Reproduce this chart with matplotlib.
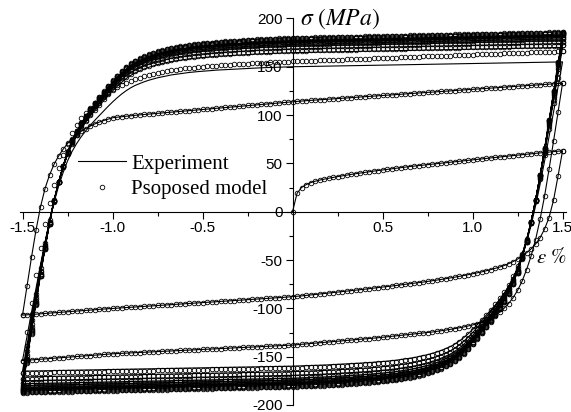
import numpy as np
import matplotlib.pyplot as plt
from matplotlib.lines import Line2D
from matplotlib.ticker import MultipleLocator

plt.rcParams['mathtext.fontset'] = 'stix'

# strain samples (%) along one half cycle, -1.5 ... 1.5
strain = np.round(np.arange(121) * 0.025 - 1.5, 3)

# monotonic first loading, stress (MPa) on strain 0 ... 1.5
first_loading = [
    0, 19, 25, 28, 30, 31.5, 32.7, 33.7, 34.6, 35.5,
    36.3, 37.1, 37.9, 38.6, 39.3, 40.0, 40.7, 41.4, 42.0, 42.6,
    43.2, 43.8, 44.4, 45.0, 45.6, 46.1, 46.7, 47.2, 47.8, 48.3,
    48.8, 49.3, 49.8, 50.3, 50.8, 51.3, 51.8, 52.3, 52.8, 53.3,
    53.8, 54.3, 54.8, 55.2, 55.7, 56.2, 56.7, 57.1, 57.6, 58.1,
    58.5, 59.0, 59.5, 59.9, 60.4, 60.8, 61.3, 61.7, 62.2, 62.6,
    63.0]

# first reversal, strain 1.5 -> -1.5
cycle1_down = [
    63, 37, 12, -6, -18, -27, -33.5, -38.5, -42.5, -46,
    -49, -51.6, -53.8, -55.7, -57.3, -58.7, -60.0, -61.2, -62.3, -63.3,
    -64.3, -65.2, -66.1, -67.0, -67.8, -68.6, -69.4, -70.1, -70.8, -71.5,
    -72.2, -72.8, -73.4, -74.0, -74.6, -75.2, -75.8, -76.3, -76.9, -77.4,
    -78.0, -78.5, -79.1, -79.6, -80.2, -80.7, -81.2, -81.7, -82.2, -82.7,
    -83.2, -83.7, -84.2, -84.7, -85.2, -85.7, -86.2, -86.6, -87.1, -87.5,
    -88.0, -88.3, -88.6, -88.9, -89.2, -89.5, -89.8, -90.1, -90.4, -90.7,
    -91.0, -91.3, -91.6, -91.9, -92.2, -92.5, -92.8, -93.1, -93.4, -93.7,
    -94.0, -94.3, -94.6, -94.9, -95.2, -95.5, -95.8, -96.1, -96.4, -96.7,
    -97.0, -97.3, -97.6, -97.9, -98.2, -98.5, -98.8, -99.1, -99.4, -99.7,
    -100.0, -100.4, -100.7, -101.1, -101.4, -101.8, -102.1, -102.5, -102.8, -103.2,
    -103.5, -103.9, -104.2, -104.6, -104.9, -105.3, -105.6, -106.0, -106.3, -106.7,
    -107.0]

# strain -1.5 -> 1.5
cycle2_up = [
    -107, -77, -47, -19, 5, 24, 38, 49, 57.5, 64.5,
    70.5, 75.5, 79.5, 83, 86, 88.5, 90.7, 92.6, 94.3, 95.8,
    97.2, 97.8, 98.3, 98.8, 99.3, 99.7, 100.2, 100.6, 101.0, 101.5,
    101.9, 102.3, 102.7, 103.1, 103.5, 103.9, 104.3, 104.7, 105.1, 105.5,
    105.9, 106.3, 106.7, 107.1, 107.5, 107.9, 108.3, 108.7, 109.1, 109.5,
    109.9, 110.3, 110.7, 111.1, 111.5, 111.9, 112.3, 112.7, 113.1, 113.5,
    113.9, 114.2, 114.5, 114.9, 115.2, 115.5, 115.8, 116.1, 116.4, 116.8,
    117.1, 117.4, 117.7, 118.0, 118.4, 118.7, 119.0, 119.3, 119.6, 119.9,
    120.3, 120.6, 120.9, 121.2, 121.5, 121.9, 122.2, 122.5, 122.8, 123.1,
    123.4, 123.8, 124.1, 124.4, 124.7, 125.0, 125.4, 125.7, 126.0, 126.3,
    126.6, 126.9, 127.3, 127.6, 127.9, 128.2, 128.5, 128.9, 129.2, 129.5,
    129.8, 130.1, 130.4, 130.8, 131.1, 131.4, 131.7, 132.0, 132.4, 132.7,
    133.0]

# strain 1.5 -> -1.5
cycle2_down = [
    133, 103, 73, 44, 16, -8, -29, -46, -60, -72,
    -81.5, -89, -95, -100, -104, -107.3, -110, -112.3, -114.2, -115.8,
    -117.2, -118.3, -119.3, -120.2, -121.0, -121.8, -122.5, -123.2, -123.9, -124.5,
    -125.0, -125.5, -126.0, -126.5, -127.0, -127.5, -128.0, -128.5, -129.0, -129.5,
    -130.0, -130.4, -130.8, -131.2, -131.6, -132.0, -132.4, -132.8, -133.2, -133.6,
    -134.0, -134.4, -134.8, -135.2, -135.6, -136.0, -136.4, -136.8, -137.2, -137.6,
    -138.0, -138.2, -138.5, -138.7, -138.9, -139.1, -139.4, -139.6, -139.8, -140.0,
    -140.3, -140.5, -140.7, -140.9, -141.2, -141.4, -141.6, -141.8, -142.1, -142.3,
    -142.5, -142.7, -143.0, -143.2, -143.4, -143.6, -143.9, -144.1, -144.3, -144.5,
    -144.8, -145.0, -145.2, -145.4, -145.7, -145.9, -146.1, -146.3, -146.6, -146.8,
    -147.0, -147.4, -147.7, -148.1, -148.4, -148.8, -149.1, -149.5, -149.8, -150.2,
    -150.5, -150.9, -151.2, -151.6, -151.9, -152.3, -152.6, -153.0, -153.3, -153.7,
    -154.0]

# strain -1.5 -> 1.5
cycle3_up = [
    -154, -124, -94, -65, -38, -13, 9, 28, 45, 59,
    71, 81, 89.5, 96.5, 102.5, 107.7, 112.2, 116.2, 119.8, 123,
    126, 128.7, 131.2, 133.4, 135.4, 137.2, 138.8, 140.2, 141.5, 142.6,
    143.7, 144.6, 145.5, 146.2, 146.9, 147.6, 148.2, 148.7, 149.2, 149.7,
    150.2, 150.5, 150.8, 151.1, 151.4, 151.7, 152.1, 152.4, 152.7, 153.0,
    153.3, 153.5, 153.7, 154.0, 154.2, 154.4, 154.6, 154.8, 155.1, 155.3,
    155.5, 155.7, 155.9, 156.0, 156.2, 156.4, 156.6, 156.7, 156.9, 157.1,
    157.3, 157.4, 157.6, 157.8, 158.0, 158.1, 158.3, 158.5, 158.7, 158.8,
    159.0, 159.2, 159.4, 159.5, 159.7, 159.9, 160.1, 160.2, 160.4, 160.6,
    160.8, 160.9, 161.1, 161.3, 161.5, 161.6, 161.8, 162.0, 162.2, 162.3,
    162.5, 162.7, 162.9, 163.0, 163.2, 163.4, 163.6, 163.7, 163.9, 164.1,
    164.3, 164.4, 164.6, 164.8, 165.0, 165.1, 165.3, 165.5, 165.7, 165.8,
    166.0]

# stabilised half cycle, strain -1.5 -> 1.5
stable_up = [
    -185.0, -154.8, -125.0, -95.2, -66.1, -38.4, -12.6, 10.8, 30.6, 47.5,
    62.3, 73.9, 83.6, 92.0, 99.2, 106.1, 112.3, 118.1, 124.0, 129.8,
    135.3, 140.4, 145.1, 149.2, 152.8, 155.8, 158.1, 160.3, 162.2, 163.7,
    165.3, 166.4, 167.6, 168.8, 169.6, 170.4, 171.2, 171.9, 172.5, 173.0,
    173.4, 173.9, 174.3, 174.8, 175.1, 175.5, 175.8, 176.1, 176.4, 176.7,
    177.0, 177.3, 177.5, 177.7, 177.9, 178.1, 178.3, 178.5, 178.7, 178.9,
    179.0, 179.1, 179.2, 179.3, 179.4, 179.5, 179.6, 179.7, 179.8, 179.9,
    180.0, 180.1, 180.2, 180.3, 180.4, 180.5, 180.6, 180.7, 180.8, 180.9,
    181.0, 181.1, 181.2, 181.3, 181.4, 181.5, 181.6, 181.7, 181.8, 181.9,
    182.0, 182.1, 182.2, 182.3, 182.4, 182.5, 182.6, 182.7, 182.8, 182.9,
    183.0, 183.1, 183.2, 183.3, 183.4, 183.5, 183.6, 183.7, 183.8, 183.9,
    184.0, 184.1, 184.2, 184.3, 184.4, 184.5, 184.6, 184.7, 184.8, 184.9,
    185.0]

# peak stresses of the later cycles (MPa)
model_min = [167, 173, 177, 180, 182, 183.5, 184.8, 185.8, 186.6, 187.2]
model_max = [172, 176, 179, 181, 182.6, 183.8, 184.6, 185.3, 185.8]
test_max = [155, 170, 174, 177, 179, 181, 182, 183]
test_min = [165, 171, 175, 178, 180, 181.5, 183, 184]


def stable_branch(start, end):
    s = np.asarray(stable_up)
    return start + (end - start) * (s - s[0]) / (s[-1] - s[0])


def later_cycles(x, y, start, tops, bottoms):
    level = start
    for k in range(max(len(tops), len(bottoms))):
        if k < len(bottoms):
            x.append(strain[::-1])
            y.append(stable_branch(level, -bottoms[k]))
            level = -bottoms[k]
        if k < len(tops):
            x.append(strain)
            y.append(stable_branch(level, tops[k]))
            level = tops[k]


early_x = [strain[60:], strain[::-1], strain, strain[::-1]]
early_y = [first_loading, cycle1_down, cycle2_up, cycle2_down]

# model: five explicit branches then the stabilising loops
mx = early_x + [strain]
my = early_y + [cycle3_up]
later_cycles(mx, my, cycle3_up[-1], model_max, model_min)

# test record
tx = list(early_x) + [strain]
ty = list(early_y) + [stable_branch(cycle2_down[-1], test_max[0])]
later_cycles(tx, ty, test_max[0], test_max[1:], test_min)

fig = plt.figure(figsize=(5.71, 4.12), dpi=100)
ax = fig.add_axes([0.0347, 0.017, 0.9568, 0.9383])

ax.plot(np.concatenate(tx), np.concatenate(ty), color='k', lw=0.8)
ax.plot(np.concatenate(mx), np.concatenate(my), ls='none', marker='o',
        ms=3.3, mfc='none', mec='k', mew=0.6)

ax.set_xlim(-1.515, 1.52)
ax.set_ylim(-200, 200)
for side in ['top', 'right']:
    ax.spines[side].set_visible(False)
ax.spines['left'].set_position(('data', 0))
ax.spines['bottom'].set_position(('data', 0))
for side in ['left', 'bottom']:
    ax.spines[side].set_linewidth(0.8)

xt = [-1.5, -1.0, -0.5, 0.5, 1.0, 1.5]
ax.set_xticks(xt)
ax.set_xticklabels(['-1.5', '-1.0', '-0.5', '0.5', '1.0', '1.5'])
yt = list(range(-200, 201, 50))
ax.set_yticks(yt)
ax.set_yticklabels([str(v) for v in yt])
ax.xaxis.set_minor_locator(MultipleLocator(0.25))
ax.yaxis.set_minor_locator(MultipleLocator(25))
ax.tick_params(which='major', direction='out', length=5, width=0.8,
               labelsize=11, pad=2)
ax.tick_params(which='minor', direction='out', length=3, width=0.8)
for lab in ax.get_xticklabels() + ax.get_yticklabels():
    lab.set_family('Liberation Sans')

ax.text(0.04, 200, r'$\sigma\ (MPa)$', fontsize=17, ha='left', va='center')
ax.text(1.44, -47, r'$\varepsilon\ \%$', fontsize=15, ha='center', va='center')

handles = [Line2D([], [], color='k', lw=0.8),
           Line2D([], [], ls='none', marker='o', ms=3.3, mfc='none',
                  mec='k', mew=0.6)]
ax.legend(handles, ['Experiment', 'Psoposed model'], loc='upper left',
          bbox_to_anchor=(78 / 571, 1 - 154 / 412),
          bbox_transform=fig.transFigure, frameon=False, borderpad=0,
          borderaxespad=0, handlelength=2.3, handletextpad=0.25,
          labelspacing=0.3, prop={'family': 'Liberation Serif', 'size': 15})

fig.savefig('out.png', dpi=100)
